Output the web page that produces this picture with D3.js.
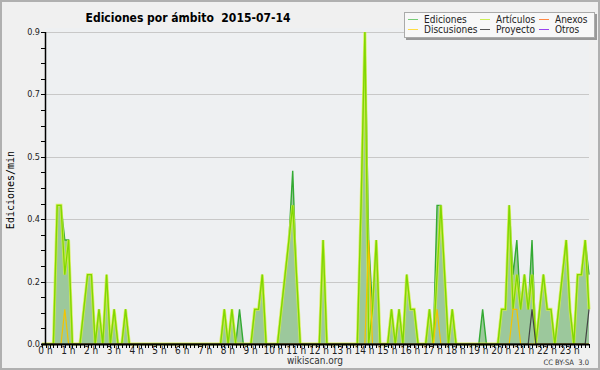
<!DOCTYPE html>
<html>
<head>
<meta charset="utf-8">
<script src="https://cdn.jsdelivr.net/npm/d3@7"></script>
<style>
  body { margin: 0; background: #f0f0f0; }
  svg { display: block; }
</style>
</head>
<body>
<svg id="chart" width="600" height="370"></svg>
<script>
// 10-minute bins, edits per minute
const hourLabels = ['0 h','1 h','2 h','3 h','4 h','5 h','6 h','7 h','8 h','9 h','10 h','11 h',
  '12 h','13 h','14 h','15 h','16 h','17 h','18 h','19 h','20 h','21 h','22 h','23 h'];

const ediciones = [
  0, 0, 0, 0, 0.4, 0.4,
  0.3, 0.3, 0, 0, 0, 0.1,
  0.2, 0.2, 0, 0.1, 0, 0.2,
  0, 0.1, 0, 0, 0.1, 0,
  0, 0, 0, 0, 0, 0,
  0, 0, 0, 0, 0, 0,
  0, 0, 0, 0, 0, 0,
  0, 0, 0, 0, 0, 0,
  0.1, 0, 0.1, 0, 0.1, 0,
  0, 0, 0.1, 0.1, 0.2, 0,
  0, 0, 0, 0.1, 0.2, 0.3,
  0.5, 0.2, 0, 0, 0, 0,
  0, 0, 0.3, 0, 0, 0,
  0, 0, 0, 0, 0, 0,
  0.4, 0.9, 0.3, 0.1, 0.3, 0,
  0, 0, 0.1, 0, 0.1, 0,
  0.2, 0.1, 0.1, 0, 0, 0,
  0.1, 0, 0.4, 0.4, 0.2, 0,
  0.1, 0, 0, 0, 0, 0,
  0, 0, 0.1, 0, 0, 0,
  0, 0.1, 0.1, 0.4, 0.2, 0.3,
  0.1, 0.2, 0.1, 0.3, 0, 0.1,
  0.2, 0.1, 0.1, 0, 0.1, 0.2,
  0.3, 0.1, 0, 0.2, 0.2, 0.3,
  0.2
];

const articulos = [
  0, 0, 0, 0, 0.4, 0.4,
  0.2, 0.3, 0, 0, 0, 0.1,
  0.2, 0.2, 0, 0.1, 0, 0.2,
  0, 0.1, 0, 0, 0.1, 0,
  0, 0, 0, 0, 0, 0,
  0, 0, 0, 0, 0, 0,
  0, 0, 0, 0, 0, 0,
  0, 0, 0, 0, 0, 0,
  0.1, 0, 0.1, 0, 0, 0,
  0, 0, 0.1, 0.1, 0.2, 0,
  0, 0, 0, 0.1, 0.2, 0.3,
  0.4, 0.2, 0, 0, 0, 0,
  0, 0, 0.3, 0, 0, 0,
  0, 0, 0, 0, 0, 0,
  0.4, 0.9, 0, 0.1, 0.3, 0,
  0, 0, 0.1, 0, 0.1, 0,
  0.2, 0.1, 0.1, 0, 0, 0,
  0.1, 0, 0.2, 0.4, 0.2, 0,
  0.1, 0, 0, 0, 0, 0,
  0, 0, 0, 0, 0, 0,
  0, 0.1, 0.1, 0.4, 0.1, 0.2,
  0.1, 0.2, 0.1, 0.2, 0, 0.1,
  0.2, 0.1, 0.1, 0, 0.1, 0.2,
  0.3, 0.1, 0, 0.2, 0.2, 0.3,
  0.1
];

// only the non-zero bins of the small series: [bin, value]
const discusiones = [[6, 0.1], [86, 0.3], [104, 0.1], [124, 0.1], [125, 0.1]];
const proyecto = [[129, 0.1], [144, 0.1]];

const legendItems = [
  { name: 'Ediciones', color: '#77cc77' },
  { name: 'Artículos', color: '#ccee55' },
  { name: 'Anexos', color: '#ff8844' },
  { name: 'Discusiones', color: '#ffdd44' },
  { name: 'Proyecto', color: '#555555' },
  { name: 'Otros', color: '#9944ee' }
];

const width = 600, height = 370;
const plotLeft = 45, plotRight = 589, plotTop = 32, plotBottom = 344;

const svg = d3.select('#chart');

// outer frame
svg.append('rect')
  .attr('x', 1).attr('y', 1).attr('width', width - 2).attr('height', height - 2)
  .attr('fill', '#f0f0f0').attr('stroke', '#b0b0b0').attr('stroke-width', 2);

// plot background
svg.append('rect')
  .attr('x', plotLeft).attr('y', 28).attr('width', plotRight - plotLeft).attr('height', plotBottom - 28)
  .attr('fill', '#eef0f2');

const x = d3.scaleLinear().domain([0, 1440]).range([42, 589]);
const y = d3.scaleLinear().domain([0, 0.9]).range([plotBottom, plotTop]);

// y grid and ticks (5 divisions of the range, 4 minor steps each)
const majorY = d3.range(0, 6).map(k => 0.9 * k / 5);
const minorY = d3.range(0, 21).map(k => 0.9 * k / 20);

svg.append('g')
  .selectAll('line')
  .data(majorY.slice(1))
  .join('line')
  .attr('x1', plotLeft).attr('x2', plotRight)
  .attr('y1', d => Math.round(y(d)) + 0.5).attr('y2', d => Math.round(y(d)) + 0.5)
  .attr('stroke', '#c8c8c8');

// series
const pts = ediciones.map((v, i) => [i * 10, v]);
svg.append('path')
  .datum(pts)
  .attr('fill', '#9cc89c')
  .attr('d', d3.area().x(d => x(d[0])).y0(plotBottom).y1(d => y(d[1])));

const line = d3.line().x(d => x(d[0])).y(d => y(d[1]));

svg.append('path')
  .datum(pts)
  .attr('fill', 'none').attr('stroke', '#33aa33').attr('stroke-width', 1.4)
  .attr('d', line);

const artPts = articulos.map((v, i) => [i * 10, v]);
// soft yellow-green halo, then the lime core
svg.append('path')
  .datum(artPts)
  .attr('fill', 'none').attr('stroke', '#d4f040').attr('stroke-opacity', 0.8).attr('stroke-width', 3)
  .attr('d', line);
svg.append('path')
  .datum(artPts)
  .attr('fill', 'none').attr('stroke', '#80d800').attr('stroke-width', 1.3)
  .attr('d', line);

function sparse(list) {
  const full = ediciones.map((v, i) => [i * 10, 0]);
  list.forEach(([i, v]) => { full[i][1] = v; });
  return full;
}

svg.append('path')
  .datum(sparse(discusiones))
  .attr('fill', 'none').attr('stroke', '#f4c400').attr('stroke-width', 1.2)
  .attr('d', line);

svg.append('path')
  .datum(sparse(proyecto))
  .attr('fill', 'none').attr('stroke', '#444').attr('stroke-width', 1.2)
  .attr('d', line);

// y axis
const yAxis = svg.append('g').attr('font-family', 'DejaVu Sans Condensed, DejaVu Sans').attr('font-size', 9);
yAxis.append('line')
  .attr('x1', plotLeft + 0.5).attr('x2', plotLeft + 0.5).attr('y1', plotTop).attr('y2', plotBottom)
  .attr('stroke', '#000').attr('stroke-width', 1.5);
yAxis.selectAll('.minor')
  .data(minorY)
  .join('line')
  .attr('x1', plotLeft - 4).attr('x2', plotLeft)
  .attr('y1', d => Math.round(y(d)) + 0.5).attr('y2', d => Math.round(y(d)) + 0.5)
  .attr('stroke', '#000');
yAxis.selectAll('text')
  .data(majorY)
  .join('text')
  .attr('x', plotLeft - 5).attr('y', d => y(d) + 3)
  .attr('text-anchor', 'end').attr('fill', '#222')
  .text(d => d3.format('.1f')(d));

// x axis
const xAxis = svg.append('g').attr('font-family', 'DejaVu Sans Condensed, DejaVu Sans').attr('font-size', 10);
xAxis.append('line')
  .attr('x1', 41).attr('x2', plotRight).attr('y1', plotBottom + 0.5).attr('y2', plotBottom + 0.5)
  .attr('stroke', '#000').attr('stroke-width', 2);
xAxis.selectAll('.tick')
  .data(d3.range(0, 145))
  .join('line')
  .attr('x1', i => Math.round(x(i * 10)) + 0.5).attr('x2', i => Math.round(x(i * 10)) + 0.5)
  .attr('y1', plotBottom).attr('y2', plotBottom + 4)
  .attr('stroke', '#000');
xAxis.selectAll('text')
  .data(hourLabels)
  .join('text')
  .attr('x', (d, i) => x(i * 60) + 3.5).attr('y', 354)
  .attr('text-anchor', 'middle').attr('fill', '#222')
  .text(d => d);

// titles
svg.append('text')
  .attr('x', 188).attr('y', 22)
  .attr('text-anchor', 'middle')
  .attr('font-family', 'DejaVu Sans Condensed, DejaVu Sans')
  .attr('font-weight', 'bold').attr('font-size', 12)
  .style('white-space', 'pre')
  .text('Ediciones por ámbito  2015-07-14');

svg.append('text')
  .attr('transform', 'translate(14,190) rotate(-90)')
  .attr('text-anchor', 'middle')
  .attr('font-family', 'DejaVu Sans Mono').attr('font-size', 10)
  .text('Ediciones/min');

svg.append('text')
  .attr('x', 315).attr('y', 364)
  .attr('text-anchor', 'middle')
  .attr('font-family', 'DejaVu Sans Condensed, DejaVu Sans').attr('font-size', 10)
  .attr('fill', '#333')
  .text('wikiscan.org');

svg.append('text')
  .attr('x', 589).attr('y', 365)
  .attr('text-anchor', 'end')
  .attr('font-family', 'DejaVu Sans Condensed, DejaVu Sans').attr('font-size', 7.5)
  .attr('fill', '#333')
  .style('white-space', 'pre')
  .text('CC BY-SA  3.0');

// legend
const lg = svg.append('g');
lg.append('rect')
  .attr('x', 406).attr('y', 14).attr('width', 191).attr('height', 26)
  .attr('fill', '#999');
lg.append('rect')
  .attr('x', 404.5).attr('y', 12.5).attr('width', 190).attr('height', 25)
  .attr('fill', '#f8f8f8').attr('stroke', '#aaa');
const colX = [408, 480, 539];
legendItems.forEach((d, i) => {
  const cx = colX[i % 3], cy = i < 3 ? 19 : 29;
  lg.append('line')
    .attr('x1', cx).attr('x2', cx + 10).attr('y1', cy + 0.5).attr('y2', cy + 0.5)
    .attr('stroke', d.color);
  lg.append('text')
    .attr('x', cx + 16).attr('y', cy + 4)
    .attr('font-family', 'DejaVu Sans Condensed, DejaVu Sans').attr('font-size', 10)
    .attr('fill', '#222')
    .text(d.name);
});
</script>
</body>
</html>
